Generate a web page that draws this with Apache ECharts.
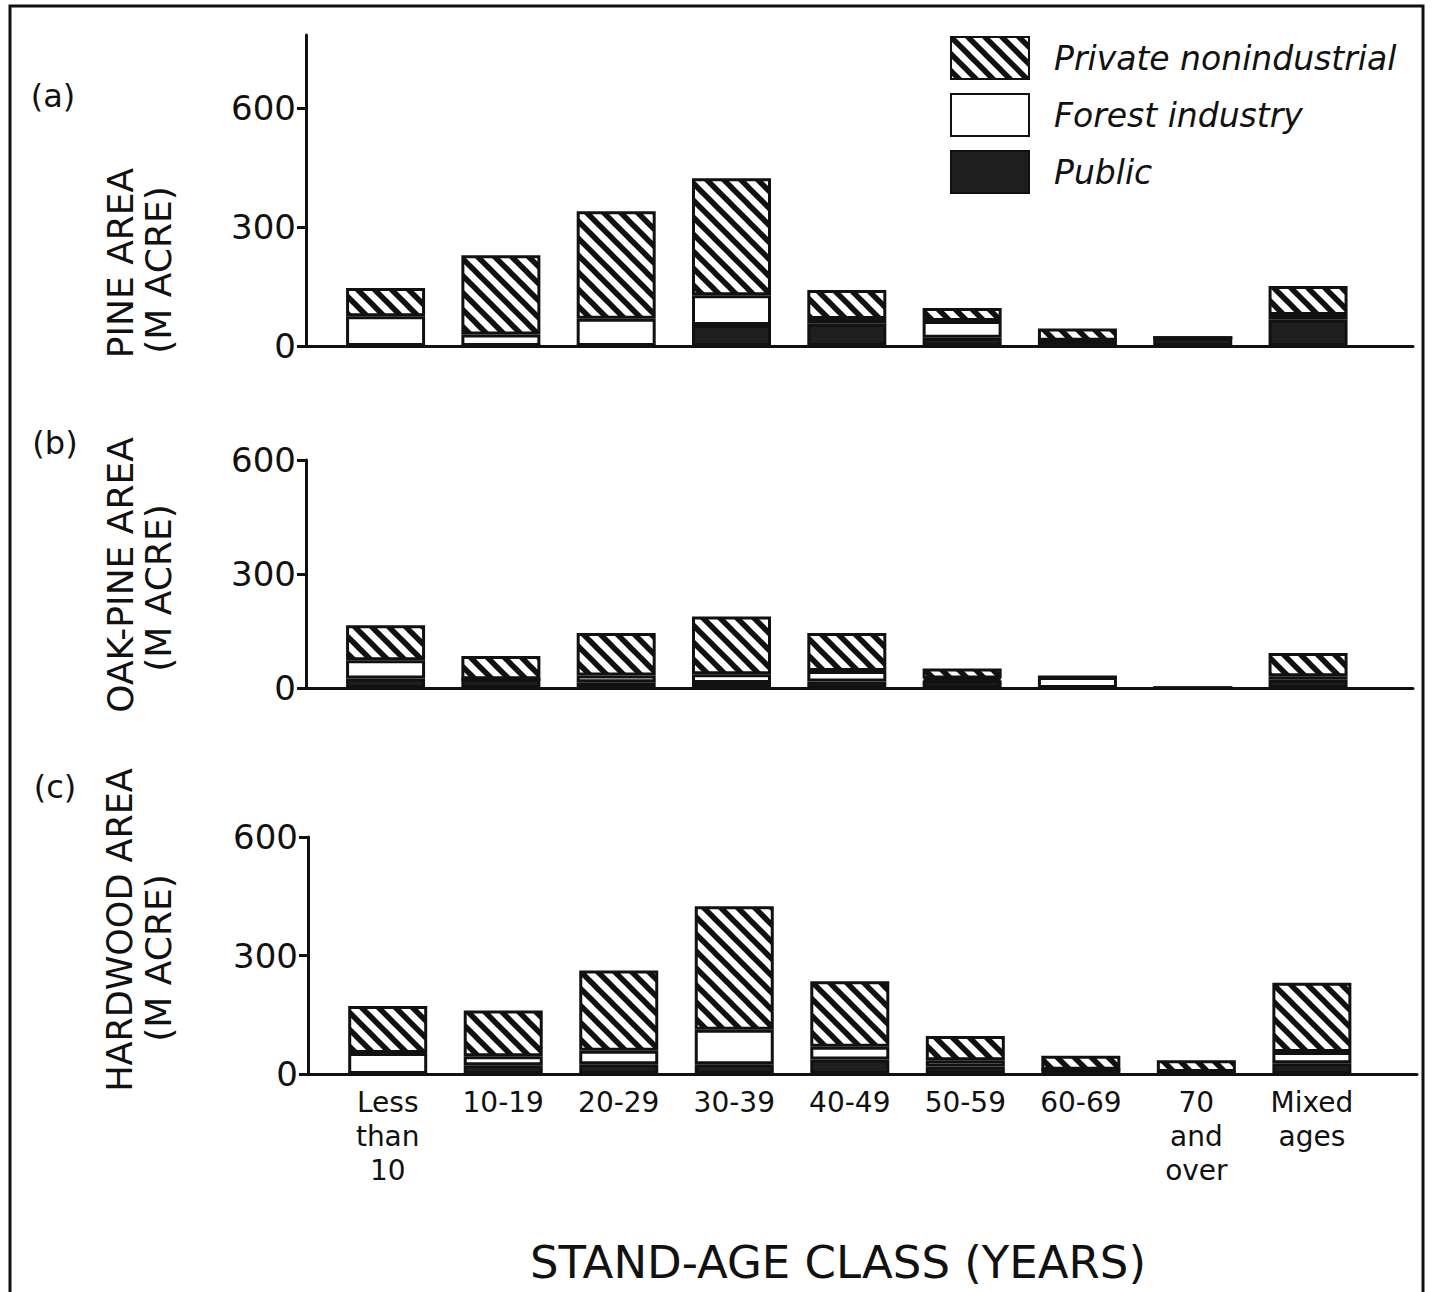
<!DOCTYPE html>
<html>
<head>
<meta charset="utf-8">
<script src="https://cdn.jsdelivr.net/npm/echarts@6/dist/echarts.min.js"></script>
<style>
html,body{margin:0;padding:0;background:#fff;}
#c{width:1433px;height:1292px;}
</style>
</head>
<body>
<div id="c"></div>
<script>
// ---- data (M acre) ----
const categories = ['Less\nthan\n10', '10-19', '20-29', '30-39', '40-49', '50-59', '60-69', '70\nand\nover', 'Mixed\nages'];
const yTickValues = [0, 300, 600];
const seriesNames = ['Private nonindustrial', 'Forest industry', 'Public'];

const pinePublic  = [0, 0, 0, 53, 56, 21, 13, 21, 66];
const pineForest  = [75, 29, 69, 75, 12, 42, 0, 0, 12];
const pinePrivate = [71, 200, 271, 295, 73, 33, 31, 0, 73];

const oakPublic  = [25, 23, 15, 13, 17, 20, 0, 0, 22];
const oakForest  = [48, 0, 18, 23, 28, 5, 29, 0, 9];
const oakPrivate = [92, 61, 112, 152, 100, 26, 0, 0, 61];

const hardPublic  = [0, 22, 25, 25, 37, 19, 11, 5, 27];
const hardForest  = [53, 23, 34, 87, 32, 16, 0, 0, 29];
const hardPrivate = [119, 116, 203, 313, 166, 61, 35, 30, 175];

const panels = [
  { pub: pinePublic, forest: pineForest, priv: pinePrivate },
  { pub: oakPublic, forest: oakForest, priv: oakPrivate },
  { pub: hardPublic, forest: hardForest, priv: hardPrivate }
];

// ---- hatch pattern ----
const hatch = (function () {
  const c = document.createElement('canvas');
  c.width = 17; c.height = 17;
  const g = c.getContext('2d');
  g.fillStyle = '#fff'; g.fillRect(0, 0, 17, 17);
  g.strokeStyle = '#111'; g.lineWidth = 5.5;
  [-17, 0, 17].forEach(function (o) {
    g.beginPath(); g.moveTo(o - 3, -3); g.lineTo(o + 20, 20); g.stroke();
  });
  return c.toDataURL();
})();

const INK = '#111';
const FONT = 'DejaVu Sans';
const styles = {
  priv: { color: { image: hatch, repeat: 'repeat', imageWidth: 17, imageHeight: 17 }, borderColor: INK, borderWidth: 3 },
  forest: { color: '#fff', borderColor: INK, borderWidth: 3 },
  pub: { color: '#1e1e1e', borderColor: INK, borderWidth: 3 }
};

const grids = [
  { left: 306, top: 35, width: 1107, height: 311 },
  { left: 306, top: 460, width: 1107, height: 228 },
  { left: 308, top: 837, width: 1109, height: 237 }
];
const yMax = [784, 600, 600];
const xIdx = categories.map(function (_, i) { return i; });

const xAxes = grids.map(function (_, g) {
  return {
    gridIndex: g, type: 'value', min: -0.69, max: 8.91,
    axisLine: { show: true, lineStyle: { color: INK, width: 3 } },
    axisTick: { show: false }, splitLine: { show: false },
    axisLabel: g === 2 ? {
      show: true, customValues: xIdx,
      formatter: function (v) { return categories[v]; },
      fontFamily: FONT, fontSize: 28, lineHeight: 34, color: INK, margin: 11
    } : { show: false }
  };
});
const yAxes = grids.map(function (_, g) {
  return {
    gridIndex: g, type: 'value', min: 0, max: yMax[g],
    axisLine: { show: true, onZero: false, lineStyle: { color: INK, width: 3 } },
    axisTick: { show: true, customValues: yTickValues, length: 9, lineStyle: { color: INK, width: 3 } },
    axisLabel: { customValues: yTickValues, fontFamily: FONT, fontSize: 34, color: INK, margin: 10 },
    splitLine: { show: false }
  };
});

const series = [];
panels.forEach(function (p, g) {
  [['pub', 2], ['forest', 1], ['priv', 0]].forEach(function (k) {
    series.push({
      type: 'bar', name: seriesNames[k[1]], xAxisIndex: g, yAxisIndex: g,
      stack: 'panel' + g, barWidth: 79,
      // value first so the stacked dimension is the y value; class index drives x
      dimensions: ['area', 'cls'],
      encode: { x: 'cls', y: 'area' },
      data: p[k[0]].map(function (v, i) { return [v, i]; }),
      itemStyle: styles[k[0]], emphasis: { disabled: true }, silent: true
    });
  });
});

function vtext(x, y, t, size) {
  return { type: 'text', x: x, y: y, rotation: Math.PI / 2,
    style: { text: t, fill: INK, font: size + 'px "' + FONT + '"', align: 'center', verticalAlign: 'middle' } };
}
function htext(x, y, t, size, align) {
  return { type: 'text', x: x, y: y,
    style: { text: t, fill: INK, font: size + 'px "' + FONT + '"', align: align || 'center', verticalAlign: 'middle' } };
}

const chart = echarts.init(document.getElementById('c'), null, { renderer: 'svg' });
chart.setOption({
  animation: false,
  backgroundColor: '#fff',
  grid: grids,
  xAxis: xAxes,
  yAxis: yAxes,
  legend: {
    data: seriesNames, orient: 'vertical', left: 945, top: 31,
    itemWidth: 78, itemHeight: 42, itemGap: 13, icon: 'rect', selectedMode: false,
    textStyle: { fontFamily: FONT, fontStyle: 'italic', fontSize: 33, color: INK, padding: [0, 0, 0, 20] }
  },
  series: series,
  graphic: [
    { type: 'polyline', shape: { points: [[10, 1292], [10, 6], [1423, 6], [1423, 1292]] },
      style: { stroke: INK, lineWidth: 3, fill: null } },
    htext(53, 96, '(a)', 32), htext(55, 443, '(b)', 32), htext(55, 787, '(c)', 32),
    vtext(120, 263, 'PINE AREA', 36), vtext(158, 270, '(M ACRE)', 36),
    vtext(120, 575, 'OAK-PINE AREA', 36), vtext(158, 588, '(M ACRE)', 36),
    vtext(120, 930, 'HARDWOOD AREA', 35), vtext(158, 958, '(M ACRE)', 36),
    htext(838, 1262, 'STAND-AGE CLASS (YEARS)', 45)
  ]
});
</script>
</body>
</html>
